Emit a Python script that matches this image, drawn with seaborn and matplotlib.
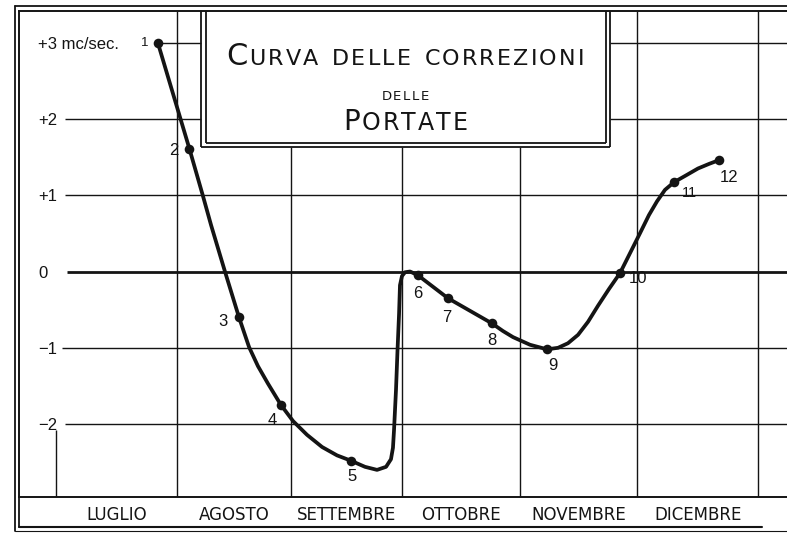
import matplotlib
matplotlib.use("Agg")
import matplotlib.pyplot as plt
from matplotlib.lines import Line2D
from matplotlib.transforms import IdentityTransform
import numpy as np
import pandas as pd
import seaborn as sns

# ---------------- data ----------------
months = ["Luglio", "Agosto", "Settembre", "Ottobre", "Novembre", "Dicembre"]
month_edges = [0.0, 1.03, 2.01, 2.96, 3.97, 4.97, 6.0]
y_ticks = [3, 2, 1, 0, -1, -2]
y_tick_labels = ["+3 mc/sec.", "+2", "+1", "0", "\u22121", "\u22122"]

point_ids = ["1", "2", "3", "4", "5", "6", "7", "8", "9", "10", "11", "12"]
point_x = [0.87, 1.14, 1.56, 1.92, 2.52, 3.09, 3.35, 3.73, 4.20, 4.82, 5.28, 5.67]
point_y = [3.00, 1.61, -0.60, -1.75, -2.48, -0.05, -0.35, -0.68, -1.02, -0.02, 1.17, 1.46]

# traced course of the drawn curve
curve_x = [0.87, 1.14, 1.256, 1.325, 1.444, 1.564, 1.650, 1.726, 1.812, 1.923,
           2.026, 2.145, 2.274, 2.402, 2.521, 2.641, 2.744, 2.821, 2.863, 2.880,
           2.889, 2.906, 2.919, 2.932, 2.940, 2.957, 2.983, 3.026, 3.094, 3.350,
           3.726, 3.820, 3.906, 4.051, 4.197, 4.291, 4.376, 4.462, 4.547, 4.632,
           4.726, 4.821, 4.906, 4.991, 5.068, 5.137, 5.205, 5.282, 5.385, 5.487,
           5.581, 5.667]
curve_y = [3.00, 1.61, 0.99, 0.61, 0.00, -0.60, -0.99, -1.24, -1.47, -1.75,
           -1.96, -2.14, -2.30, -2.41, -2.48, -2.56, -2.60, -2.56, -2.46, -2.31,
           -2.08, -1.55, -1.03, -0.56, -0.18, -0.06, -0.01, 0.00, -0.05, -0.35,
           -0.68, -0.78, -0.86, -0.96, -1.02, -1.00, -0.94, -0.83, -0.66, -0.45,
           -0.23, -0.02, 0.24, 0.50, 0.74, 0.92, 1.07, 1.17, 1.26, 1.35,
           1.41, 1.46]

title_lines = ["Curva delle correzioni", "delle", "Portate"]

# ---------------- styling ----------------
sns.set_theme(style="white")
plt.rcParams["font.family"] = ["Liberation Sans", "DejaVu Sans"]
INK = "#141414"

W, H = 787, 533
fig = plt.figure(figsize=(W / 100, H / 100), dpi=100)
fig.patch.set_facecolor("white")
ax = fig.add_axes([19 / W, (H - 497) / H, (W - 19) / W, (497 - 11) / H])
ax.set_facecolor("white")


def X(px):
    return (px - 56) / 117.0


def Y(py):
    return (271.5 - py) / 76.3


ax.set_xlim(X(19), X(787))
ax.set_ylim(Y(497), Y(11))

for side in ["left", "top", "bottom"]:
    ax.spines[side].set_color(INK)
    ax.spines[side].set_linewidth(1.4)
ax.spines["right"].set_visible(False)

# ---------------- grid ----------------
grid_kw = dict(color=INK, lw=1.0, zorder=1)
hstarts = [158, 65, 65, 67, 62, 65]
for yv, sx in zip(y_ticks, hstarts):
    lw = 2.0 if yv == 0 else 1.0
    if yv in (3, 2):
        ax.hlines(yv, X(sx), X(201), color=INK, lw=lw, zorder=1)
        ax.hlines(yv, X(610), X(787), color=INK, lw=lw, zorder=1)
    else:
        ax.hlines(yv, X(sx), X(787), color=INK, lw=lw, zorder=1)

ax.vlines(month_edges[1], Y(497), Y(11), **grid_kw)
for e in month_edges[2:5]:
    ax.vlines(e, Y(497), Y(147), **grid_kw)
ax.vlines(month_edges[5], Y(497), Y(11), **grid_kw)
ax.vlines(month_edges[6], Y(497), Y(11), **grid_kw)
ax.vlines(month_edges[0], Y(497), Y(430), **grid_kw)

# title box (double rule)
box_kw = dict(color=INK, lw=1.3, zorder=2)
ax.vlines(X(201), Y(147), Y(11), **box_kw)
ax.vlines(X(206), Y(143), Y(11), **box_kw)
ax.vlines(X(606), Y(143), Y(11), **box_kw)
ax.vlines(X(610), Y(147), Y(11), **box_kw)
ax.hlines(Y(143), X(206), X(606), **box_kw)
ax.hlines(Y(147), X(201), X(610), **box_kw)


def fline(x1, y1, x2, y2, lw=1.3):
    fig.add_artist(Line2D([x1 / W, x2 / W], [(H - y1) / H, (H - y2) / H],
                          transform=fig.transFigure, color=INK, lw=lw))


fline(15, 6, 15, 531)
fline(15, 6, 787, 6)
fline(19, 497, 19, 527)
fline(19, 527, 762, 527, 1.5)
fline(15, 531, 787, 531, 0.8)

# ---------------- ticks ----------------
ax.set_yticks(y_ticks)
ax.set_yticklabels(y_tick_labels)
ax.tick_params(axis="y", direction="in", length=6, width=1.0, color=INK,
               pad=-14, labelsize=12, labelcolor=INK)
for lab in ax.get_yticklabels():
    lab.set_horizontalalignment("left")

centers = [(month_edges[i] + month_edges[i + 1]) / 2 for i in range(6)]
ax.set_xticks(centers)
ax.set_xticklabels([m.upper() for m in months])
ax.set_xticks(month_edges, minor=True)
ax.tick_params(axis="x", which="major", length=0, pad=6.5, labelsize=12,
               labelcolor=INK)
ax.tick_params(axis="x", which="minor", direction="out", length=21.6, width=1.0,
               color=INK)
for lab in ax.get_xticklabels():
    lab.set_family(["DejaVu Sans"])

# ---------------- curve and points ----------------
curve = pd.DataFrame({"x": curve_x, "y": curve_y})
pts = pd.DataFrame({"x": point_x, "y": point_y, "id": point_ids})
sns.lineplot(data=curve, x="x", y="y", sort=False, estimator=None, ax=ax,
             color=INK, lw=2.7, zorder=4, solid_joinstyle="round",
             solid_capstyle="round")
sns.scatterplot(data=pts, x="x", y="y", ax=ax, color=INK, s=48,
                edgecolor=INK, linewidth=0, zorder=5, legend=False)
ax.set_xlabel("")
ax.set_ylabel("")

offs = [(-13, 0), (-16, 2), (-16, 4), (-8, 15), (1, 16), (0, 18), (-1, 19),
        (-1, 17), (6, 16), (18, 5), (16, 11), (10, 17)]
sizes = [9.5, 12, 12, 12, 12, 12, 12, 12, 12, 12, 10.5, 12]
for (lbl, xv, yv), (dx, dy), fs in zip(zip(point_ids, point_x, point_y), offs, sizes):
    ax.annotate(lbl, (xv, yv), xytext=(dx * 0.72, -dy * 0.72),
                textcoords="offset points", ha="center", va="center",
                fontsize=fs, color=INK, zorder=6)

# ---------------- title in small capitals with letter spacing ----------------
renderer = fig.canvas.get_renderer()


def smallcaps(text, xc_px, base_py, big, small, track):
    objs = []
    for ch in text:
        size = big if ch.isupper() else small
        if ch == " ":
            objs.append((None, small * 100 / 72 * 0.42))
            continue
        t = fig.text(0, 0, ch.upper(), fontsize=size, family=["DejaVu Sans"],
                     ha="left", va="baseline", transform=IdentityTransform(),
                     color=INK)
        objs.append((t, t.get_window_extent(renderer).width))
    total = sum(w for _, w in objs) + track * (len(objs) - 1)
    x = xc_px - total / 2
    for t, w in objs:
        if t is not None:
            t.set_position((x, H - base_py))
        x += w + track


smallcaps(title_lines[0], 405, 65, 22, 16, 2.2)
smallcaps(title_lines[1], 405, 100, 9.5, 9.5, 1.5)
smallcaps(title_lines[2], 405, 130, 20, 17, 2.0)

fig.savefig("out.png", dpi=100, facecolor="white")
